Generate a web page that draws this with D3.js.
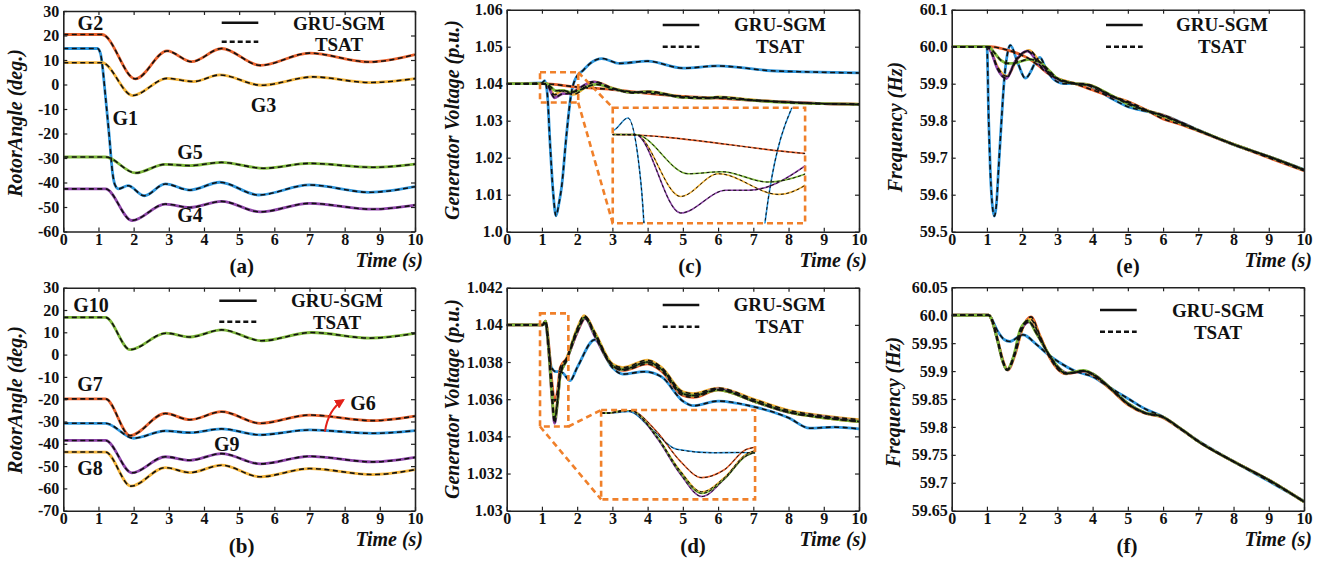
<!DOCTYPE html>
<html><head><meta charset="utf-8">
<script src="https://cdn.jsdelivr.net/npm/d3@7"></script>
<style>body{margin:0;background:#fff}</style>
</head><body>
<svg id="chart" width="1325" height="562"></svg>
<script>
// ---------------- DATA ----------------
const timeTicks=[0,1,2,3,4,5,6,7,8,9,10];
const angleTicksA=[-60,-50,-40,-30,-20,-10,0,10,20,30];
const angleTicksB=[-70,-60,-50,-40,-30,-20,-10,0,10,20,30];
const voltTicksC=[1.0,1.01,1.02,1.03,1.04,1.05,1.06];
const voltLabelsC=["1.0","1.01","1.02","1.03","1.04","1.05","1.06"];
const voltTicksD=[1.03,1.032,1.034,1.036,1.038,1.04,1.042];
const voltLabelsD=["1.03","1.032","1.034","1.036","1.038","1.04","1.042"];
const freqTicksE=[59.5,59.6,59.7,59.8,59.9,60.0,60.1];
const freqLabelsE=["59.5","59.6","59.7","59.8","59.9","60.0","60.1"];
const freqTicksF=[59.65,59.7,59.75,59.8,59.85,59.9,59.95,60.0,60.05];
const freqLabelsF=["59.65","59.7","59.75","59.8","59.85","59.9","59.95","60.0","60.05"];

// (a) rotor angles [time s, deg]
const angG1=[[0,14.7],[0.97,14.7],[1.06,12.5],[1.1,9],[1.2,-5],[1.3,-20],[1.4,-36],[1.47,-41],[1.57,-42.6],[1.84,-41.3],[2.3,-45.4],[2.9,-40.6],[3.6,-43.1],[4.45,-39.9],[5.55,-45.1],[7.0,-41],[8.7,-44],[10,-41.7]];
const angG2=[[0,20.4],[1.1,20.4],[2.05,2.3],[2.95,13.7],[3.65,9.3],[4.5,14.7],[5.6,7.8],[7.0,12.8],[8.7,9.2],[10,12.2]];
const angG3=[[0,8.9],[1.1,8.9],[1.97,-4.5],[2.95,2.5],[3.7,1.2],[4.45,3.9],[5.64,-0.3],[7.1,3.1],[8.7,0.8],[10,2.4]];
const angG4=[[0,-42.6],[1.2,-42.6],[1.95,-55.5],[2.9,-48.8],[3.6,-50.2],[4.5,-47.7],[5.6,-52],[7.0,-48.5],[8.8,-50.9],[10,-49.2]];
const angG5=[[0,-29.6],[1.2,-29.6],[2.05,-36.1],[2.9,-32.6],[3.6,-33.1],[4.5,-31.8],[5.7,-34.2],[7.0,-32.2],[8.8,-33.8],[10,-32.5]];
// (b)
const angG6=[[0,-30.8],[1.2,-30.8],[2.0,-37.5],[2.9,-34.2],[3.6,-35],[4.5,-33.3],[5.6,-36],[7.0,-33.8],[8.8,-35.3],[10,-34.1]];
const angG7=[[0,-19.85],[1.2,-19.85],[1.9,-36.3],[2.9,-26.4],[3.6,-29.2],[4.5,-25.6],[5.6,-30.8],[7.0,-27.1],[8.8,-29.6],[10,-27.6]];
const angG8=[[0,-43.7],[1.2,-43.7],[1.92,-59],[2.9,-50.7],[3.6,-52.9],[4.5,-49.6],[5.6,-54.8],[7.0,-51.1],[8.8,-53.8],[10,-51.6]];
const angG9=[[0,-38.5],[1.2,-38.5],[1.95,-53],[2.9,-45.8],[3.6,-47.4],[4.5,-44.4],[5.6,-49],[7.0,-45.6],[8.8,-48.1],[10,-46.1]];
const angG10=[[0,16.7],[1.2,16.7],[1.9,2.2],[2.92,9.6],[3.6,7.9],[4.5,11.1],[5.64,6.2],[7.06,9.9],[8.72,7.4],[10,9.5]];
// (c) generator voltage
const voltC_blue=[[0,1.04],[1.0,1.0402],[1.08,1.0408],[1.15,1.0376],[1.23,1.0239],[1.32,1.0104],[1.4,1.0043],[1.48,1.0075],[1.56,1.0122],[1.7,1.0265],[1.83,1.0372],[1.95,1.0413],[2.18,1.0437],[2.37,1.0455],[2.7,1.0468],[3.2,1.0455],[4.0,1.0461],[5.0,1.0442],[6.0,1.0448],[7.5,1.0435],[8.5,1.0432],[10,1.0429]];
const voltC_orange=[[0,1.04],[1.0,1.04],[2.0,1.0391],[3.0,1.0384],[4.0,1.0374],[5.0,1.0366],[6.0,1.0361],[7.0,1.0355],[8.0,1.035],[9.0,1.0346],[10,1.0344]];
const voltC_yellow=[[0,1.04],[1.12,1.04],[1.36,1.037],[1.56,1.0381],[1.88,1.0371],[2.5,1.0405],[3.0,1.0388],[3.6,1.0376],[4.0,1.0379],[5.0,1.0364],[5.7,1.0361],[6.0,1.0364],[7.0,1.0356],[8.0,1.035],[9.0,1.0346],[10,1.0345]];
const voltC_purple=[[0,1.04],[1.12,1.04],[1.36,1.0362],[1.6,1.0373],[1.72,1.0373],[2.45,1.0405],[3.0,1.0387],[3.6,1.0376],[4.0,1.0378],[5.0,1.0363],[5.7,1.0361],[6.0,1.0363],[7.0,1.0355],[8.0,1.035],[9.0,1.0346],[10,1.0344]];
const voltC_green=[[0,1.04],[1.12,1.04],[1.4,1.0381],[1.58,1.0382],[1.82,1.0377],[2.55,1.0398],[3.0,1.0387],[3.6,1.0376],[4.0,1.0378],[5.0,1.0363],[5.7,1.0361],[6.0,1.0363],[7.0,1.0355],[8.0,1.0349],[9.0,1.0346],[10,1.0344]];
// (d) generator voltage
const voltD_blue=[[0,1.04],[1.02,1.04],[1.1,1.0401],[1.18,1.039],[1.27,1.0377],[1.4,1.03748],[1.5,1.0375],[1.6,1.0374],[1.8,1.037],[2.0,1.0377],[2.5,1.0392],[3.0,1.0377],[3.3,1.03735],[3.9,1.03748],[4.4,1.0372],[5.0,1.0359],[5.3,1.03565],[6.0,1.0359],[7.0,1.0356],[8.0,1.035],[8.6,1.03444],[9.3,1.0345],[10,1.0344]];
const voltD_orange=[[0,1.04],[1.02,1.04],[1.1,1.0402],[1.2,1.0388],[1.28,1.037],[1.36,1.0359],[1.44,1.0364],[1.52,1.0377],[1.7,1.0382],[2.0,1.0396],[2.25,1.0404],[2.5,1.0395],[3.0,1.0378],[3.3,1.03755],[4.0,1.0379],[4.4,1.0375],[5.0,1.0362],[5.3,1.0361],[6.0,1.0365],[7.0,1.0359],[8.0,1.0353],[9.0,1.035],[10,1.0348]];
const voltD_yellow=[[0,1.04],[1.02,1.04],[1.1,1.0402],[1.2,1.0385],[1.28,1.0364],[1.36,1.035],[1.44,1.0359],[1.52,1.0374],[1.7,1.0382],[2.0,1.0398],[2.2,1.0405],[2.5,1.0396],[3.0,1.0379],[3.3,1.0377],[4.0,1.0381],[4.4,1.0377],[5.0,1.0364],[5.3,1.0363],[6.0,1.0366],[7.0,1.036],[8.0,1.0354],[9.0,1.0351],[10,1.0349]];
const voltD_purple=[[0,1.04],[1.02,1.04],[1.1,1.0402],[1.2,1.0384],[1.28,1.0362],[1.36,1.0347],[1.44,1.0358],[1.52,1.0373],[1.7,1.0381],[2.0,1.0396],[2.22,1.04035],[2.5,1.0394],[3.0,1.0378],[3.3,1.0376],[4.0,1.038],[4.4,1.0376],[5.0,1.0363],[5.3,1.0362],[6.0,1.03655],[7.0,1.0359],[8.0,1.0353],[9.0,1.03505],[10,1.0348]];
const voltD_green=[[0,1.04],[1.02,1.04],[1.1,1.0402],[1.2,1.0385],[1.28,1.0363],[1.36,1.0349],[1.44,1.0358],[1.52,1.0373],[1.7,1.0381],[2.0,1.0397],[2.22,1.0404],[2.5,1.0395],[3.0,1.0378],[3.3,1.0376],[4.0,1.038],[4.4,1.0376],[5.0,1.0363],[5.3,1.0362],[6.0,1.0365],[7.0,1.0359],[8.0,1.0353],[9.0,1.035],[10,1.0348]];
// (e) frequency
const freqE_blue=[[0,60],[1.0,60],[1.05,59.8],[1.1,59.655],[1.15,59.575],[1.21,59.542],[1.27,59.575],[1.33,59.67],[1.4,59.78],[1.5,59.92],[1.58,59.98],[1.66,60.004],[1.88,59.955],[2.09,59.915],[2.5,59.971],[2.7,59.935],[3.0,59.905],[3.2,59.9],[3.7,59.9],[4.0,59.89],[4.5,59.862],[5.0,59.838],[5.5,59.826],[6.0,59.815],[6.5,59.796],[7.0,59.775],[8.0,59.735],[9.0,59.703],[10,59.668]];
const freqE_orange=[[0,60],[1.1,60],[1.5,59.993],[1.9,59.981],[2.2,59.967],[2.45,59.95],[2.7,59.93],[3.0,59.914],[3.5,59.9],[4.0,59.883],[4.5,59.866],[5.0,59.852],[5.5,59.83],[6.0,59.805],[6.5,59.79],[7.0,59.772],[8.0,59.736],[9.0,59.7],[10,59.665]];
const freqE_yellow=[[0,60],[1.0,60],[1.1,59.99],[1.3,59.945],[1.56,59.92],[1.85,59.965],[2.2,59.99],[2.5,59.958],[2.8,59.928],[3.0,59.914],[3.5,59.901],[3.9,59.897],[4.5,59.869],[5.0,59.85],[5.5,59.829],[6.0,59.815],[6.5,59.795],[7.0,59.774],[8.0,59.736],[9.0,59.703],[10,59.667]];
const freqE_purple=[[0,60],[1.0,60],[1.1,59.99],[1.3,59.94],[1.55,59.914],[1.8,59.96],[2.15,59.988],[2.5,59.95],[2.8,59.925],[3.0,59.912],[3.5,59.9],[3.9,59.896],[4.5,59.868],[5.0,59.848],[5.5,59.828],[6.0,59.814],[6.5,59.795],[7.0,59.774],[8.0,59.736],[9.0,59.703],[10,59.667]];
const freqE_green=[[0,60],[1.05,60],[1.2,59.985],[1.4,59.963],[1.6,59.955],[1.75,59.955],[2.2,59.966],[2.5,59.958],[2.8,59.932],[3.0,59.914],[3.5,59.9],[3.9,59.896],[4.5,59.87],[5.0,59.845],[5.5,59.828],[6.0,59.812],[7.0,59.774],[8.0,59.736],[9.0,59.703],[10,59.667]];
// (f) frequency
const freqF_blue=[[0,60],[1.05,60],[1.1,59.997],[1.3,59.972],[1.5,59.956],[1.65,59.953],[2.02,59.965],[2.4,59.948],[2.73,59.93],[3.07,59.915],[3.5,59.9],[4.0,59.89],[4.5,59.87],[5.0,59.851],[5.5,59.832],[6.0,59.818],[6.5,59.796],[7.0,59.775],[8.0,59.738],[9.0,59.703],[10,59.667]];
const freqF_orange=[[0,60],[1.05,60],[1.1,59.997],[1.3,59.957],[1.45,59.92],[1.59,59.902],[1.8,59.93],[2.0,59.975],[2.25,59.997],[2.5,59.964],[2.8,59.922],[3.25,59.895],[3.75,59.9],[4.0,59.893],[4.5,59.868],[5.0,59.84],[5.5,59.824],[5.95,59.818],[6.5,59.796],[7.0,59.774],[8.0,59.738],[9.0,59.705],[10,59.666]];
const freqF_yellow=[[0,60],[1.05,60],[1.1,59.997],[1.3,59.956],[1.45,59.918],[1.58,59.903],[1.8,59.932],[2.0,59.975],[2.24,59.993],[2.5,59.962],[2.8,59.924],[3.25,59.896],[3.75,59.9],[4.0,59.894],[4.5,59.869],[5.0,59.841],[5.5,59.825],[5.95,59.819],[6.5,59.797],[7.0,59.774],[8.0,59.738],[9.0,59.705],[10,59.666]];
const freqF_purple=[[0,60],[1.05,60],[1.1,59.997],[1.3,59.955],[1.45,59.917],[1.57,59.902],[1.78,59.93],[1.98,59.975],[2.2,59.988],[2.45,59.963],[2.75,59.93],[3.1,59.902],[3.3,59.896],[3.75,59.9],[4.0,59.895],[4.5,59.87],[5.0,59.842],[5.5,59.825],[5.95,59.819],[6.5,59.797],[7.0,59.774],[8.0,59.738],[9.0,59.705],[10,59.666]];
const freqF_green=[[0,60],[1.05,60],[1.1,59.997],[1.3,59.955],[1.45,59.917],[1.57,59.902],[1.75,59.925],[1.95,59.975],[2.17,59.99],[2.4,59.968],[2.73,59.933],[3.05,59.905],[3.25,59.896],[3.75,59.901],[4.0,59.895],[4.5,59.87],[5.0,59.842],[5.5,59.825],[5.95,59.819],[6.5,59.797],[7.0,59.774],[8.0,59.738],[9.0,59.705],[10,59.666]];

// ---------------- STYLE / LAYOUT ----------------
const COL={blue:"#2E96DC",orange:"#E8612C",yellow:"#F2B33A",purple:"#8E44A8",green:"#7DB63A"};
const BOX="#F0802A";
const FONT='"Liberation Serif","Times New Roman",Times,serif';
const svg=d3.select("#chart");

const panels=[
 {id:"a",x0:63.3,x1:415,y0:11,y1:231.5,yDomain:[-60,30],yTicks:angleTicksA,yLabels:angleTicksA.map(String),
  yLabel:"RotorAngle (deg.)",yLabelPos:[15,123],tag:"(a)",tagPos:[241.7,273],
  series:[[angG1,COL.blue],[angG2,COL.orange],[angG3,COL.yellow],[angG4,COL.purple],[angG5,COL.green]],
  legend:{lx0:221.7,lx1:258.3,ly1:22.7,ly2:41.7,tx:339,tb1:29.5,tb2:51},
  names:[["G2",0.77,22.2],["G1",1.76,-16.5],["G3",5.69,-11.1],["G5",3.6,-30.4],["G4",3.6,-56.1]]},
 {id:"b",x0:63.3,x1:415,y0:287.7,y1:510.7,yDomain:[-70,30],yTicks:angleTicksB,yLabels:angleTicksB.map(String),
  yLabel:"RotorAngle (deg.)",yLabelPos:[15,400],tag:"(b)",tagPos:[241.7,553],
  series:[[angG6,COL.blue],[angG7,COL.orange],[angG8,COL.yellow],[angG9,COL.purple],[angG10,COL.green]],
  legend:{lx0:219.3,lx1:256.7,ly1:300.7,ly2:321.7,tx:337,tb1:307,tb2:328.5},
  names:[["G10",0.79,19.3],["G7",0.76,-16.2],["G6",8.52,-24.7],["G9",4.65,-43.2],["G8",0.76,-53.9]],
  arrow:{from:[7.44,-34.5],ctrl:[7.53,-24.7],to:[7.96,-20.4]}},
 {id:"c",x0:506.7,x1:859,y0:9.7,y1:231.7,yDomain:[1.0,1.06],yTicks:voltTicksC,yLabels:voltLabelsC,
  yLabel:"Generator Voltage (p.u.)",yLabelPos:[451.7,120],tag:"(c)",tagPos:[690,273],
  series:[[voltC_blue,COL.blue],[voltC_orange,COL.orange],[voltC_yellow,COL.yellow],[voltC_purple,COL.purple],[voltC_green,COL.green]],
  legend:{lx0:662.7,lx1:699.3,ly1:25,ly2:46.7,tx:780,tb1:31,tb2:52.5},
  inset:{dom:[1.0,2.02,1.0357,1.0413],big:[3.01,8.47,1.00227,1.0335],small:[0.946,2.03,1.0349,1.0431],
         conn:[[[2.03,1.0431],[3.01,1.0335]],[[2.03,1.0349],[3.01,1.00227]]]}},
 {id:"d",x0:506.7,x1:859,y0:287.7,y1:510.7,yDomain:[1.03,1.042],yTicks:voltTicksD,yLabels:voltLabelsD,
  yLabel:"Generator Voltage (p.u.)",yLabelPos:[451.7,399],tag:"(d)",tagPos:[693,553],
  series:[[voltD_blue,COL.blue],[voltD_orange,COL.orange],[voltD_yellow,COL.yellow],[voltD_purple,COL.purple],[voltD_green,COL.green]],
  legend:{lx0:662.7,lx1:699.3,ly1:305,ly2:326.7,tx:779.5,tb1:310.7,tb2:332.5},
  inset:{dom:[1.0,1.55,1.03452,1.0402],big:[2.68,7.05,1.03061,1.03542],small:[0.946,1.75,1.03453,1.04062],
         conn:[[[1.75,1.03453],[2.68,1.03542]],[[0.946,1.03453],[2.68,1.03061]]]}},
 {id:"e",x0:951.7,x1:1304,y0:9.7,y1:231.7,yDomain:[59.5,60.1],yTicks:freqTicksE,yLabels:freqLabelsE,
  yLabel:"Frequency (Hz)",yLabelPos:[895,127],tag:"(e)",tagPos:[1128,273],
  series:[[freqE_blue,COL.blue],[freqE_orange,COL.orange],[freqE_yellow,COL.yellow],[freqE_purple,COL.purple],[freqE_green,COL.green]],
  legend:{lx0:1106,lx1:1142.7,ly1:25,ly2:46.7,tx:1222,tb1:31,tb2:52.5}},
 {id:"f",x0:951.7,x1:1304,y0:287.3,y1:510.7,yDomain:[59.65,60.05],yTicks:freqTicksF,yLabels:freqLabelsF,
  yLabel:"Frequency (Hz)",yLabelPos:[893,402],tag:"(f)",tagPos:[1127,553],
  series:[[freqF_blue,COL.blue],[freqF_orange,COL.orange],[freqF_yellow,COL.yellow],[freqF_purple,COL.purple],[freqF_green,COL.green]],
  legend:{lx0:1100,lx1:1136.7,ly1:310,ly2:331.7,tx:1218,tb1:317,tb2:338.5}}
];

const defs=svg.append("defs");
defs.append("marker").attr("id","arrowRed").attr("viewBox","0 0 10 10").attr("refX",8).attr("refY",5)
  .attr("markerWidth",5).attr("markerHeight",5).attr("orient","auto")
  .append("path").attr("d","M0,0 L10,5 L0,10 z").attr("fill","#E32119");

function styleAxis(g){
  g.attr("font-family",FONT).attr("font-size",16).attr("font-weight","bold");
  g.selectAll("path.domain").attr("stroke","#222").attr("stroke-width",1.6);
  g.selectAll(".tick line").attr("stroke","#222").attr("stroke-width",1.2);
  g.selectAll(".tick text").attr("fill","#111");
}

panels.forEach(c=>{
  const xs=d3.scaleLinear().domain([0,10]).range([c.x0,c.x1]);
  const ys=d3.scaleLinear().domain(c.yDomain).range([c.y1,c.y0]);
  const g=svg.append("g");
  defs.append("clipPath").attr("id","clip"+c.id).append("rect")
    .attr("x",c.x0).attr("y",c.y0).attr("width",c.x1-c.x0).attr("height",c.y1-c.y0);
  const pg=g.append("g").attr("clip-path",`url(#clip${c.id})`);
  const line=d3.line().x(d=>xs(d[0])).y(d=>ys(d[1])).curve(d3.curveMonotoneX);
  c.series.forEach(([data,color])=>pg.append("path").attr("d",line(data)).attr("fill","none")
    .attr("stroke",color).attr("stroke-width",2.8).attr("stroke-linejoin","round"));
  c.series.forEach(([data])=>pg.append("path").attr("d",line(data)).attr("fill","none")
    .attr("stroke","#111").attr("stroke-width",1.6).attr("stroke-dasharray","5,3.5"));

  // inset
  if(c.inset){
    const I=c.inset;
    const bx0=xs(I.big[0]),bx1=xs(I.big[1]),by0=ys(I.big[3]),by1=ys(I.big[2]);
    const xi=d3.scaleLinear().domain([I.dom[0],I.dom[1]]).range([bx0,bx1]);
    const yi=d3.scaleLinear().domain([I.dom[2],I.dom[3]]).range([by1,by0]);
    defs.append("clipPath").attr("id","clipI"+c.id).append("rect")
      .attr("x",bx0).attr("y",by0).attr("width",bx1-bx0).attr("height",by1-by0);
    const ig=g.append("g").attr("clip-path",`url(#clipI${c.id})`);
    const li=d3.line().x(d=>xi(d[0])).y(d=>yi(d[1])).curve(d3.curveMonotoneX);
    c.series.forEach(([data,color])=>ig.append("path").attr("d",li(data)).attr("fill","none")
      .attr("stroke",color).attr("stroke-width",1.6));
    c.series.forEach(([data])=>ig.append("path").attr("d",li(data)).attr("fill","none")
      .attr("stroke","#111").attr("stroke-width",1.0).attr("stroke-dasharray","3,2.5"));
    const boxStyle=s=>s.attr("fill","none").attr("stroke",BOX).attr("stroke-width",2.6).attr("stroke-dasharray","6,4");
    g.append("rect").attr("x",xs(I.small[0])).attr("y",ys(I.small[3]))
      .attr("width",xs(I.small[1])-xs(I.small[0])).attr("height",ys(I.small[2])-ys(I.small[3])).call(boxStyle);
    g.append("rect").attr("x",bx0).attr("y",by0).attr("width",bx1-bx0).attr("height",by1-by0).call(boxStyle);
    I.conn.forEach(([p,q])=>g.append("line").attr("x1",xs(p[0])).attr("y1",ys(p[1]))
      .attr("x2",xs(q[0])).attr("y2",ys(q[1])).call(boxStyle));
  }

  // axes (frame + inward ticks)
  g.append("g").attr("transform",`translate(0,${c.y1})`)
    .call(d3.axisBottom(xs).tickValues(timeTicks).tickFormat(d3.format("d")).tickSize(-4).tickSizeOuter(0).tickPadding(2.2))
    .call(styleAxis);
  g.append("g").attr("transform",`translate(0,${c.y0})`)
    .call(d3.axisTop(xs).tickValues(timeTicks).tickFormat("").tickSize(-4).tickSizeOuter(0)).call(styleAxis);
  g.append("g").attr("transform",`translate(${c.x0},0)`)
    .call(d3.axisLeft(ys).tickValues(c.yTicks).tickFormat((d,i)=>c.yLabels[i]).tickSize(-4).tickSizeOuter(0).tickPadding(4))
    .call(styleAxis);
  g.append("g").attr("transform",`translate(${c.x1},0)`)
    .call(d3.axisRight(ys).tickValues(c.yTicks).tickFormat("").tickSize(-4).tickSizeOuter(0)).call(styleAxis);

  // axis titles
  g.append("text").attr("transform",`translate(${c.yLabelPos[0]},${c.yLabelPos[1]}) rotate(-90)`)
    .attr("dy","0.35em").attr("text-anchor","middle").attr("font-family",FONT).attr("font-size",20)
    .attr("font-weight","bold").attr("font-style","italic").attr("fill","#111").text(c.yLabel);
  g.append("text").attr("x",c.x1+8).attr("y",c.y1+35).attr("text-anchor","end").attr("font-family",FONT)
    .attr("font-size",20).attr("font-weight","bold").attr("font-style","italic").attr("fill","#111").text("Time (s)");
  g.append("text").attr("x",c.tagPos[0]).attr("y",c.tagPos[1]).attr("text-anchor","middle").attr("font-family",FONT)
    .attr("font-size",21).attr("font-weight","bold").attr("fill","#111").text(c.tag);

  // legend
  const L=c.legend;
  g.append("line").attr("x1",L.lx0).attr("x2",L.lx1).attr("y1",L.ly1).attr("y2",L.ly1).attr("stroke","#111").attr("stroke-width",2.4);
  g.append("line").attr("x1",L.lx0).attr("x2",L.lx1).attr("y1",L.ly2).attr("y2",L.ly2).attr("stroke","#111").attr("stroke-width",2.4).attr("stroke-dasharray","5,3");
  [["GRU-SGM",L.tb1],["TSAT",L.tb2]].forEach(([t,b])=>g.append("text").attr("x",L.tx).attr("y",b)
    .attr("text-anchor","middle").attr("font-family",FONT).attr("font-size",19).attr("font-weight","bold").attr("fill","#111").text(t));

  // generator names
  (c.names||[]).forEach(([t,tx,ty])=>g.append("text").attr("x",xs(tx)).attr("y",ys(ty)).attr("text-anchor","middle")
    .attr("font-family",FONT).attr("font-size",20).attr("font-weight","bold").attr("fill","#111").text(t));

  if(c.arrow){
    const A=c.arrow;
    g.append("path").attr("d",`M${xs(A.from[0])},${ys(A.from[1])} Q${xs(A.ctrl[0])},${ys(A.ctrl[1])} ${xs(A.to[0])},${ys(A.to[1])}`)
      .attr("fill","none").attr("stroke","#E32119").attr("stroke-width",2).attr("marker-end","url(#arrowRed)");
  }
});
</script>
</body></html>
